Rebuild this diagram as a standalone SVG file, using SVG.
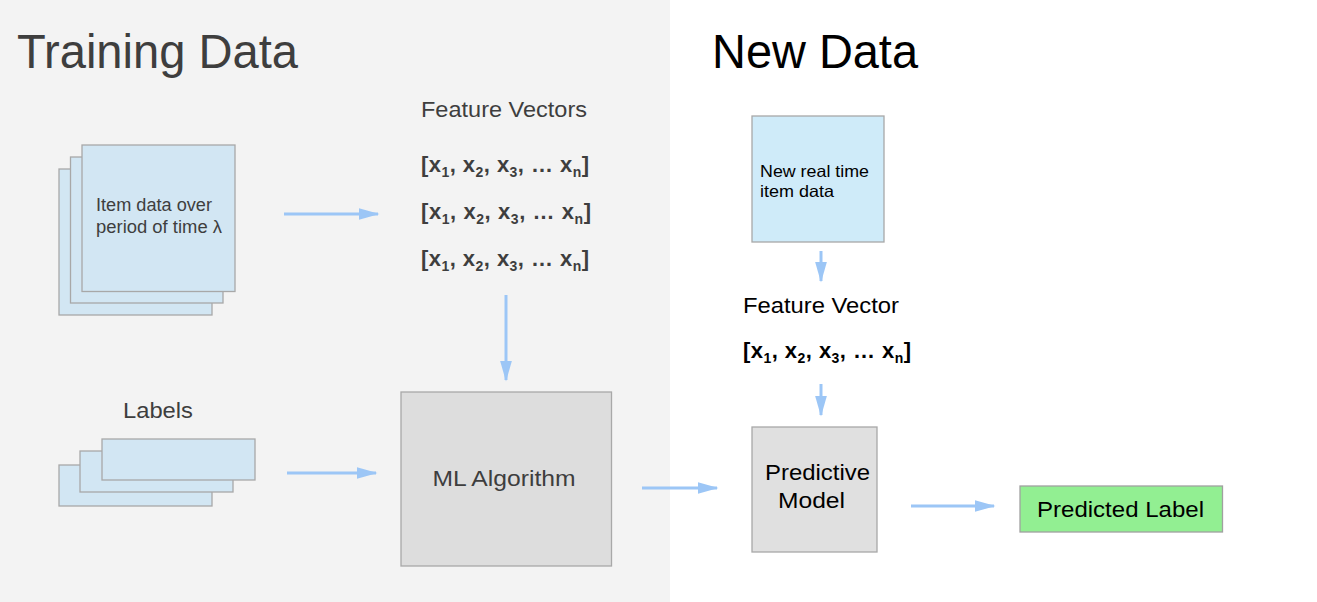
<svg xmlns="http://www.w3.org/2000/svg" width="1317" height="602" viewBox="0 0 1317 602">
<style>
text{font-family:"Liberation Sans",Arial,sans-serif}
.dk{fill:#3e3e3e}
.bk{fill:#000}
.vec{font-weight:bold;font-size:22px}
.sub{font-size:14px}
.blue{fill:#d2e6f3;stroke:#a8a8a8;stroke-width:1.3}
.gray{fill:#dddddd;stroke:#a8a8a8;stroke-width:1.3}
.conn{stroke:#9cc6f6;stroke-width:3;fill:none;marker-end:url(#ah)}
</style>
<defs>
<marker id="ah" markerWidth="7" markerHeight="4" refX="6.5" refY="2" orient="auto" markerUnits="strokeWidth">
<path d="M0,0 L7,2 L0,4 Z" fill="#9cc6f6"/>
</marker>
</defs>
<rect x="0" y="0" width="1317" height="602" fill="#ffffff"/>
<rect x="0" y="0" width="670" height="602" fill="#f3f3f3"/>

<g id="title-training">
<text x="17" y="68" class="dk" font-size="48" textLength="281" lengthAdjust="spacingAndGlyphs">Training Data</text>
</g>
<g id="title-new">
<text x="712" y="68" class="bk" font-size="48" textLength="206" lengthAdjust="spacingAndGlyphs">New Data</text>
</g>

<g id="item-data">
<rect class="blue" x="59" y="169" width="153" height="146"/>
<rect class="blue" x="70.5" y="157" width="152.5" height="146"/>
<rect class="blue" x="82" y="145" width="153" height="146.5"/>
<text x="96" y="211" class="dk" font-size="17.5" textLength="116" lengthAdjust="spacingAndGlyphs">Item data over</text>
<text x="96" y="233" class="dk" font-size="17.5" textLength="126" lengthAdjust="spacingAndGlyphs">period of time λ</text>
</g>

<g id="feature-vectors">
<text x="421" y="117" class="dk" font-size="22" textLength="166" lengthAdjust="spacingAndGlyphs">Feature Vectors</text>
<text x="421" y="172" class="dk vec" textLength="168">[x<tspan class="sub" dy="5">1</tspan><tspan dy="-5">, x</tspan><tspan class="sub" dy="5">2</tspan><tspan dy="-5">, x</tspan><tspan class="sub" dy="5">3</tspan><tspan dy="-5">, … x</tspan><tspan class="sub" dy="5">n</tspan><tspan dy="-5">]</tspan></text>
<text x="421" y="219" class="dk vec" textLength="170">[x<tspan class="sub" dy="5">1</tspan><tspan dy="-5">, x</tspan><tspan class="sub" dy="5">2</tspan><tspan dy="-5">, x</tspan><tspan class="sub" dy="5">3</tspan><tspan dy="-5">, … x</tspan><tspan class="sub" dy="5">n</tspan><tspan dy="-5">]</tspan></text>
<text x="421" y="266" class="dk vec" textLength="168">[x<tspan class="sub" dy="5">1</tspan><tspan dy="-5">, x</tspan><tspan class="sub" dy="5">2</tspan><tspan dy="-5">, x</tspan><tspan class="sub" dy="5">3</tspan><tspan dy="-5">, … x</tspan><tspan class="sub" dy="5">n</tspan><tspan dy="-5">]</tspan></text>
</g>

<g id="labels">
<text x="123" y="418" class="dk" font-size="22" textLength="70" lengthAdjust="spacingAndGlyphs">Labels</text>
<rect class="blue" x="59" y="465" width="153" height="41"/>
<rect class="blue" x="80" y="451" width="153" height="41"/>
<rect class="blue" x="102" y="439" width="153" height="41"/>
</g>

<g id="ml-algorithm">
<rect class="gray" x="401" y="392" width="210.5" height="174"/>
<text x="504" y="486" class="dk" font-size="22" text-anchor="middle" textLength="143" lengthAdjust="spacingAndGlyphs">ML Algorithm</text>
</g>

<g id="new-item-data">
<rect x="752" y="116" width="132" height="126" fill="#cfebf9" stroke="#a8a8a8" stroke-width="1.3"/>
<text x="760" y="177" class="bk" font-size="16.5" textLength="109" lengthAdjust="spacingAndGlyphs">New real time</text>
<text x="760" y="197" class="bk" font-size="16.5" textLength="74" lengthAdjust="spacingAndGlyphs">item data</text>
</g>

<g id="feature-vector">
<text x="743" y="313" class="bk" font-size="22" textLength="156" lengthAdjust="spacingAndGlyphs">Feature Vector</text>
<text x="743" y="358" class="bk vec" textLength="168">[x<tspan class="sub" dy="5">1</tspan><tspan dy="-5">, x</tspan><tspan class="sub" dy="5">2</tspan><tspan dy="-5">, x</tspan><tspan class="sub" dy="5">3</tspan><tspan dy="-5">, … x</tspan><tspan class="sub" dy="5">n</tspan><tspan dy="-5">]</tspan></text>
</g>

<g id="predictive-model">
<rect x="752" y="427" width="125" height="125" fill="#e0e0e0" stroke="#a8a8a8" stroke-width="1.3"/>
<text x="765" y="480" class="bk" font-size="22" textLength="105" lengthAdjust="spacingAndGlyphs">Predictive</text>
<text x="778" y="508" class="bk" font-size="22" textLength="67" lengthAdjust="spacingAndGlyphs">Model</text>
</g>

<g id="predicted-label">
<rect x="1020" y="486" width="202.5" height="46" fill="#92ef92" stroke="#a0a0a0" stroke-width="1.3"/>
<text x="1037" y="517" class="bk" font-size="22" textLength="167" lengthAdjust="spacingAndGlyphs">Predicted Label</text>
</g>

<g id="connectors">
<line class="conn" x1="284" y1="214" x2="378" y2="214"/>
<line class="conn" x1="506" y1="295" x2="506" y2="380"/>
<line class="conn" x1="287" y1="473" x2="376" y2="473"/>
<line class="conn" x1="642" y1="488" x2="717" y2="488"/>
<line class="conn" x1="821" y1="251" x2="821" y2="281"/>
<line class="conn" x1="821" y1="384" x2="821" y2="415"/>
<line class="conn" x1="911" y1="506" x2="994" y2="506"/>
</g>
</svg>
